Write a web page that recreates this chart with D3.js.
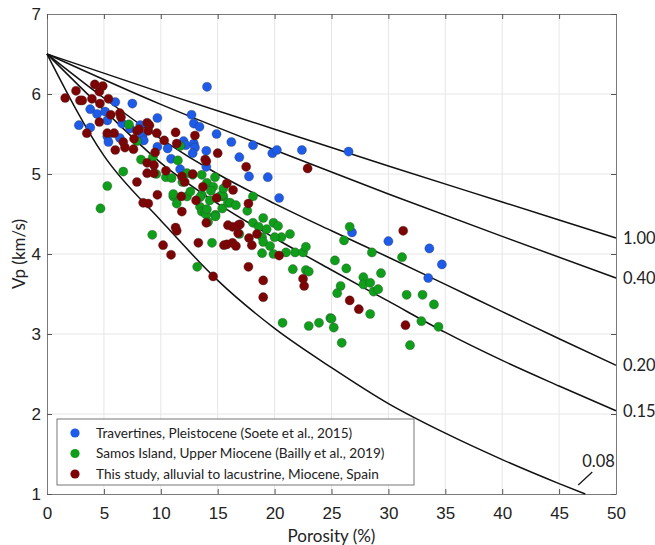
<!DOCTYPE html>
<html>
<head>
<meta charset="utf-8">
<script src="https://cdn.jsdelivr.net/npm/d3@7"></script>
<style>
  body { margin: 0; background: #fff; }
  svg { display: block; font-family: Lato, "Noto Sans", sans-serif; }
</style>
</head>
<body>
<svg width="655" height="545"></svg>
<script>
// data: [porosity %, Vp km/s]
var travertines = [[2.8,5.61],[3.8,5.58],[3.8,5.81],[4.4,5.75],[5.1,5.78],[5.3,5.67],[5.3,5.47],[5.4,5.4],
  [6.0,5.9],[6.4,5.45],[6.6,5.63],[7.3,5.57],[7.5,5.88],[8.2,5.61],[8.4,5.48],[8.5,5.42],[9.7,5.7],
  [9.7,5.34],[10.6,5.32],[10.9,5.19],[11.7,5.06],[12.0,5.41],[12.2,5.36],[12.7,5.74],[12.9,5.63],
  [12.9,5.38],[13.0,5.33],[12.8,5.26],[13.4,5.59],[14.0,5.29],[14.0,5.09],[14.06,6.09],[14.9,5.5],
  [16.2,5.4],[16.9,5.21],[17.75,4.97],[18.1,5.36],[19.4,4.96],[19.8,5.26],[20.2,5.3],[20.4,4.7],
  [22.4,5.3],[26.5,5.28],[26.8,4.27],[30.0,4.16],[33.6,4.07],[34.7,3.87],[33.5,3.7]];

var samos = [[4.7,4.57],[5.3,4.85],[6.7,5.03],[7.2,5.62],[7.9,5.41],[8.26,5.18],[9.3,5.21],[9.6,5.0],
  [10.45,4.96],[10.95,4.95],[11.5,5.17],[11.7,5.35],[12.3,5.01],[11.9,4.9],[11.1,4.72],[11.1,4.75],
  [11.4,4.63],[9.25,4.24],[12.8,4.99],[13.6,4.99],[12.3,4.72],[12.6,4.78],[13.6,4.74],[13.45,4.59],
  [13.6,4.53],[13.9,4.53],[14.0,4.49],[14.15,4.4],[14.05,4.89],[14.6,4.84],[14.3,4.67],[14.8,4.49],
  [14.5,4.14],[13.2,3.84],[14.76,4.96],[14.05,4.56],[14.8,4.47],[15.4,4.57],[15.5,4.72],[15.2,4.72],
  [15.9,4.64],[13.45,4.71],[15.4,4.74],[16.1,4.64],[16.6,4.61],[18.1,4.72],[17.6,4.54],[18.1,4.39],
  [18.6,4.34],[16.9,4.25],[19.0,4.45],[19.9,4.39],[20.3,4.35],[19.3,4.31],[18.9,4.21],[19.0,4.15],
  [19.6,4.1],[18.9,4.01],[19.9,4.0],[20.6,4.21],[21.35,4.25],[21.0,4.02],[21.8,4.02],[22.5,4.02],
  [22.75,4.09],[21.6,3.81],[22.75,3.8],[23.0,3.78],[25.3,3.92],[26.3,3.82],[26.1,4.17],[26.6,4.34],
  [27.8,3.71],[27.8,3.62],[25.8,3.6],[25.5,3.51],[24.9,3.2],[28.55,4.02],[31.2,3.96],[28.4,3.64],
  [29.35,3.76],[28.7,3.53],[29.1,3.56],[28.4,3.25],[31.6,3.49],[20.7,3.14],[23.0,3.1],[23.9,3.14],
  [25.0,3.19],[25.2,3.08],[25.9,2.89],[31.9,2.86],[33.0,3.49],[34.0,3.37],[32.9,3.16],[34.4,3.09],
  [20.0,4.21],[15.5,4.82],[14.4,4.79]];

var thisStudy = [[1.6,5.95],[2.55,6.04],[2.9,5.92],[3.1,5.92],[3.5,5.51],[3.95,5.94],[4.2,6.12],
  [4.6,6.03],[4.9,6.1],[4.65,5.88],[4.6,5.65],[5.4,5.94],[5.6,5.74],[5.3,5.51],[5.9,5.51],[6.0,5.3],
  [6.4,5.76],[6.5,5.71],[6.7,5.4],[6.85,5.33],[7.6,5.31],[7.65,5.44],[7.9,5.54],[8.1,5.56],[8.8,5.64],
  [9.0,5.61],[8.9,5.54],[9.65,5.51],[10.3,5.42],[11.3,5.52],[11.4,5.38],[9.5,5.27],[8.8,5.14],
  [9.4,5.11],[7.9,4.9],[8.8,5.01],[9.4,5.01],[8.45,4.64],[8.9,4.63],[9.7,4.74],[10.45,5.04],
  [11.85,4.97],[11.8,4.72],[11.85,4.53],[13.1,4.67],[13.7,4.84],[11.3,4.33],[11.4,4.29],[10.2,4.11],
  [10.9,3.99],[13.3,4.14],[14.6,3.72],[12.8,5.0],[13.9,5.18],[13.0,5.48],[15.0,5.26],[14.0,5.16],
  [12.1,4.9],[14.0,4.39],[14.9,4.7],[15.55,4.11],[15.8,4.12],[15.9,4.36],[16.3,4.34],[16.95,4.37],
  [16.8,4.26],[17.75,4.2],[18.0,4.11],[16.3,4.14],[16.6,4.1],[18.45,4.25],[20.4,3.98],[17.7,3.84],
  [19.0,3.67],[19.0,3.46],[22.5,3.69],[22.6,3.6],[26.6,3.42],[27.4,3.31],[17.5,5.09],[22.9,5.07],
  [15.8,4.88],[16.35,4.8],[17.7,4.63],[16.8,4.36],[31.3,4.29],[31.5,3.11]];

// pore aspect ratio curves
var curveLabels = ["1.00", "0.40", "0.20", "0.15", "0.08"];
var curve100 = [[0,6.5],[10,6.02],[20,5.56],[30,5.1],[40,4.65],[50,4.2]];
var curve040 = [[0,6.5],[10,5.87],[20,5.3],[30,4.75],[40,4.22],[50,3.7]];
var curve020 = [[0,6.5],[5,5.95],[10,5.44],[15,5.0],[20,4.63],[25,4.29],[30,3.96],[35,3.62],[40,3.28],[45,2.94],[50,2.61]];
var curve015 = [[0,6.5],[5,5.8],[10,5.14],[15,4.63],[20,4.2],[25,3.8],[30,3.41],[35,3.02],[40,2.67],[45,2.35],[50,2.04]];
var curve008 = [[0,6.5],[5,5.23],[10,4.42],[15,3.67],[20,3.07],[25,2.58],[30,2.13],[35,1.76],[40,1.43],[45,1.13],[47.3,1.0]];

var xTicks = [0,5,10,15,20,25,30,35,40,45,50];
var yTicks = [1,2,3,4,5,6,7];
var legendNames = ["Travertines, Pleistocene (Soete et al., 2015)",
  "Samos Island, Upper Miocene (Bailly et al., 2019)",
  "This study, alluvial to lacustrine, Miocene, Spain"];
var colors = ["#1d5be8", "#0e9e1a", "#7d0404"];

var margin = {top: 14, right: 39, bottom: 51, left: 47};
var width = 655 - margin.left - margin.right;
var height = 545 - margin.top - margin.bottom;

var svg = d3.select("svg");
var g = svg.append("g").attr("transform", "translate(" + margin.left + "," + margin.top + ")");

var x = d3.scaleLinear().domain([0, 50]).range([0, width]);
var y = d3.scaleLinear().domain([1, 7]).range([height, 0]);

// grid
g.append("g").selectAll("line").data(xTicks.slice(1, -1)).enter().append("line")
  .attr("x1", function(d){ return x(d); }).attr("x2", function(d){ return x(d); })
  .attr("y1", 0).attr("y2", height)
  .attr("stroke", "#e6e6e6").attr("stroke-width", 1);
g.append("g").selectAll("line").data(yTicks.slice(1, -1)).enter().append("line")
  .attr("y1", function(d){ return y(d); }).attr("y2", function(d){ return y(d); })
  .attr("x1", 0).attr("x2", width)
  .attr("stroke", "#e6e6e6").attr("stroke-width", 1);

// axes, ticks inside like matlab
var xAxis = g.append("g").attr("transform", "translate(0," + height + ")")
  .call(d3.axisBottom(x).tickValues(xTicks).tickFormat(d3.format("d")).tickSizeInner(-5).tickSizeOuter(0).tickPadding(13));
var yAxis = g.append("g")
  .call(d3.axisLeft(y).tickValues(yTicks).tickFormat(d3.format("d")).tickSizeInner(-5).tickSizeOuter(0).tickPadding(6));
g.append("g").call(d3.axisTop(x).tickValues(xTicks).tickSizeInner(-5).tickSizeOuter(0).tickFormat(""));
g.append("g").attr("transform", "translate(" + width + ",0)")
  .call(d3.axisRight(y).tickValues(yTicks).tickSizeInner(-5).tickSizeOuter(0).tickFormat(""));
g.selectAll(".domain").attr("stroke", "#7a7a7a");
g.selectAll(".tick line").attr("stroke", "#555");
xAxis.selectAll("text").attr("font-size", 17).attr("fill", "#222");
yAxis.selectAll("text").attr("font-size", 17).attr("fill", "#222");

// curves
var line = d3.line()
  .x(function(d){ return x(d[0]); })
  .y(function(d){ return y(d[1]); })
  .curve(d3.curveMonotoneX);
var curves = [curve100, curve040, curve020, curve015, curve008];
g.append("g").selectAll("path").data(curves).enter().append("path")
  .attr("d", line)
  .attr("fill", "none")
  .attr("stroke", "#111")
  .attr("stroke-width", 1.5);

// labels at the right end
g.append("g").selectAll("text").data(curves.slice(0, 4)).enter().append("text")
  .attr("x", width + 7)
  .attr("y", function(d){ return y(d[d.length - 1][1]); })
  .attr("dy", "0.35em")
  .attr("font-size", 16.5)
  .attr("fill", "#222")
  .text(function(d, i){ return curveLabels[i]; });
var last = curve008[curve008.length - 1];
g.append("line")
  .attr("x1", x(last[0]) - 7).attr("y1", y(last[1]) - 9)
  .attr("x2", x(last[0]) + 7).attr("y2", y(last[1]) - 22)
  .attr("stroke", "#111").attr("stroke-width", 1.2);
g.append("text")
  .attr("x", x(last[0]) - 3).attr("y", y(last[1]) - 27)
  .attr("font-size", 16.5).attr("fill", "#222")
  .text(curveLabels[4]);

// points
var sets = [travertines, samos, thisStudy];
sets.forEach(function(set, k){
  g.append("g").selectAll("circle").data(set).enter().append("circle")
    .attr("cx", function(d){ return x(d[0]); })
    .attr("cy", function(d){ return y(d[1]); })
    .attr("r", 4.6)
    .attr("fill", colors[k])
    .attr("stroke", "#333")
    .attr("stroke-opacity", 0.5)
    .attr("stroke-width", 0.6);
});

// legend
var legend = g.append("g").attr("transform", "translate(" + (57 - margin.left) + "," + (419 - margin.top) + ")");
legend.append("rect").attr("width", 357).attr("height", 66)
  .attr("fill", "#fff").attr("stroke", "#777").attr("stroke-width", 1);
legendNames.forEach(function(name, i){
  legend.append("circle").attr("cx", 18).attr("cy", 14 + i * 20.5).attr("r", 4.6)
    .attr("fill", colors[i]);
  legend.append("text").attr("x", 39).attr("y", 14 + i * 20.5).attr("dy", "0.35em")
    .attr("font-size", 13.6).attr("fill", "#222").text(name);
});

// axis titles
svg.append("text")
  .attr("x", margin.left + width / 2).attr("y", 542)
  .attr("text-anchor", "middle").attr("font-size", 17).attr("fill", "#222")
  .text("Porosity (%)");
svg.append("text")
  .attr("transform", "translate(19," + (margin.top + height / 2) + ") rotate(-90)")
  .attr("text-anchor", "middle").attr("dy", "0.35em").attr("font-size", 17).attr("fill", "#222")
  .text("Vp (km/s)");
</script>
</body>
</html>
